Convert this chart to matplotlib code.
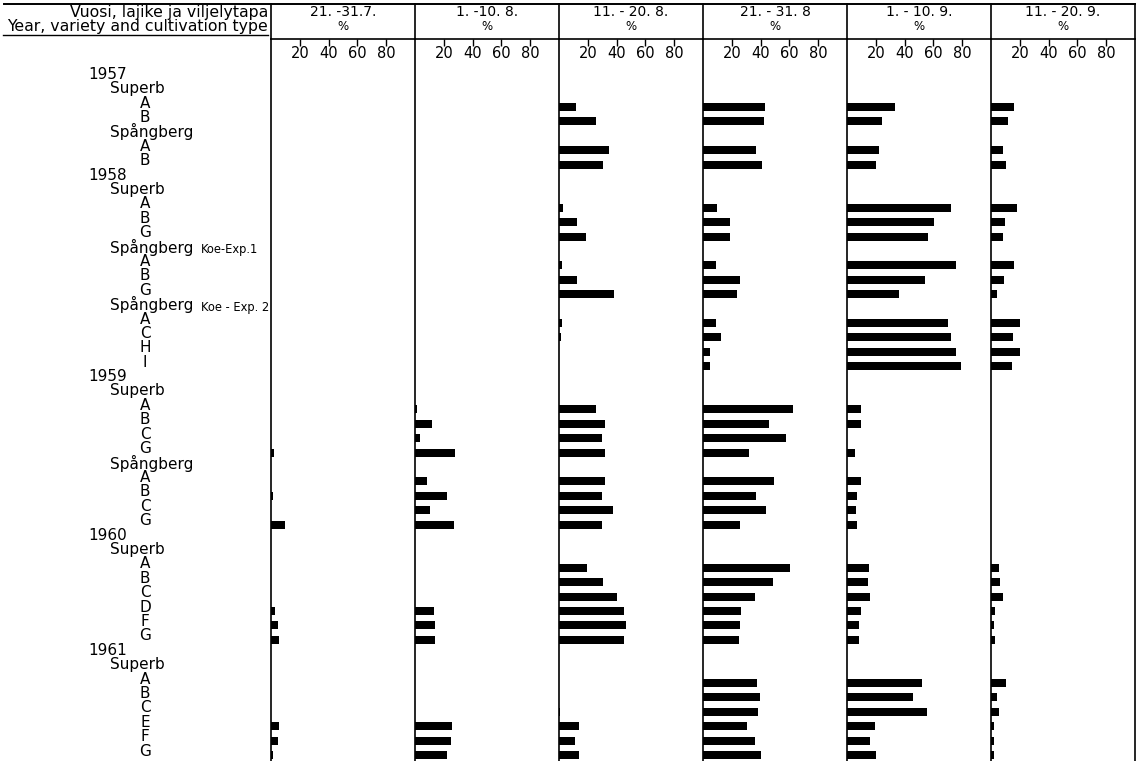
import matplotlib
matplotlib.use("Agg")
import matplotlib.pyplot as plt

W, H, DPI = 1142, 761, 100

periods = ["21. -31.7.", "1. -10. 8.", "11. - 20. 8.", "21. - 31. 8", "1. - 10. 9.", "11. - 20. 9."]
ticks = [20, 40, 60, 80]

# row labels, indent level: 0 = year, 1 = variety, 2 = cultivation type (bar row)
row_text = [
    "1957", "Superb", "A", "B", "Spångberg", "A", "B",
    "1958", "Superb", "A", "B", "G", "Spångberg", "A", "B", "G", "Spångberg", "A", "C", "H", "I",
    "1959", "Superb", "A", "B", "C", "G", "Spångberg", "A", "B", "C", "G",
    "1960", "Superb", "A", "B", "C", "D", "F", "G",
    "1961", "Superb", "A", "B", "C", "E", "F", "G",
]
row_level = [
    0, 1, 2, 2, 1, 2, 2,
    0, 1, 2, 2, 2, 1, 2, 2, 2, 1, 2, 2, 2, 2,
    0, 1, 2, 2, 2, 2, 1, 2, 2, 2, 2,
    0, 1, 2, 2, 2, 2, 2, 2,
    0, 1, 2, 2, 2, 2, 2, 2,
]
row_sub = {12: "Koe-Exp.1", 16: "Koe - Exp. 2"}

# percentages per period, one value per cultivation-type row (top to bottom)
p_21_31_7 = [0, 0, 0, 0,
             0, 0, 0, 0, 0, 0, 0, 0, 0, 0,
             0, 0, 0, 2, 0, 1.5, 0, 9.5,
             0, 0, 0, 2.5, 4.7, 5.7,
             0, 0, 0, 5.5, 4.7, 1.5]
p_1_10_8 = [0, 0, 0, 0,
            0, 0, 0, 0, 0, 0, 0, 0, 0, 0,
            1.7, 11.7, 3.8, 28, 8.2, 22.2, 10.4, 27.3,
            0, 0, 0, 13, 14.2, 13.9,
            0, 0, 0, 26, 24.8, 22.2]
p_11_20_8 = [12, 26, 35, 30.5,
             2.5, 12.4, 18.8, 2, 12.4, 38, 2, 1.5, 0, 0,
             26, 32, 30, 32, 32, 29.6, 37.8, 29.6,
             19.3, 30.8, 40.6, 45, 46.8, 45,
             0, 0, 1, 13.6, 11, 13.6]
p_21_31_8 = [43, 42.4, 36.5, 41.2,
             9.5, 18.8, 19, 9.2, 25.5, 23.4, 9, 12.8, 4.6, 5.1,
             62.2, 45.8, 57.6, 32, 49.3, 36.8, 43.8, 26,
             60.4, 48.3, 36, 26.4, 25.7, 24.7,
             37.8, 39.6, 38, 30.3, 36, 40.1]
p_1_10_9 = [33, 24, 22, 20.3,
            72, 60.7, 56.3, 75.6, 54.5, 35.8, 70, 72.5, 76, 79,
            9.7, 9.7, 0, 5.9, 9.5, 7, 6.5, 6.8,
            15.3, 14.4, 16.2, 10, 8.3, 8.3,
            52, 46, 55.3, 19.4, 15.7, 20]
p_11_20_9 = [16, 12, 8.5, 10.5,
             18, 10, 8.5, 16.2, 9.2, 3.9, 20, 15, 20, 14.6,
             0, 0, 0, 0, 0, 0, 0, 0,
             5.9, 6.5, 8.3, 3, 2, 2.6,
             10.3, 4.1, 5.9, 2, 1.8, 1.8]
series = [p_21_31_7, p_1_10_8, p_11_20_8, p_21_31_8, p_1_10_9, p_11_20_9]

# layout in pixels (y measured from the top)
TOP_Y = 4
HEAD_Y = 38.5
PANEL_X0 = 271
PANEL_W = 144
ROW0 = 78.2
ROW_H = 14.4
LINE_W = 1.2

bar_rows = [i for i, lv in enumerate(row_level) if lv == 2]

fig = plt.figure(figsize=(W / DPI, H / DPI), dpi=DPI)

# frame axes in pixel coordinates for the table header and row labels
frame = fig.add_axes([0, 0, 1, 1])
frame.set_xlim(0, W)
frame.set_ylim(H, 0)
frame.axis("off")

right_x = PANEL_X0 + PANEL_W * len(periods)
frame.plot([4, right_x], [TOP_Y, TOP_Y], color="black", lw=1.4)
frame.text(268, 12, "Vuosi, lajike ja viljelytapa", ha="right", va="center", fontsize=11.3)
frame.text(268, 27, "Year, variety and cultivation type", ha="right", va="center", fontsize=11.3)
frame.plot([3, 268], [35, 35], color="black", lw=1.0)

for k, label in enumerate(periods):
    x0 = PANEL_X0 + PANEL_W * k
    frame.plot([x0, x0], [TOP_Y, HEAD_Y], color="black", lw=LINE_W)
    frame.text(x0 + PANEL_W / 2, 12.5, label, ha="center", va="center", fontsize=10)
    frame.text(x0 + PANEL_W / 2, 26, "%", ha="center", va="center", fontsize=8.5)
frame.plot([right_x, right_x], [TOP_Y, HEAD_Y], color="black", lw=LINE_W)

label_x = {0: 88, 1: 110, 2: 145}
for i, (txt, lv) in enumerate(zip(row_text, row_level)):
    y = ROW0 + ROW_H * i - 4
    frame.text(label_x[lv], y, txt, ha="center" if lv == 2 else "left",
               va="center", fontsize=11)
    if i in row_sub:
        frame.text(201, y + 3, row_sub[i], ha="left", va="center", fontsize=8.3)

# one bar panel per period
top_idx = (HEAD_Y - ROW0) / ROW_H
bot_idx = (H - ROW0) / ROW_H
for k, vals in enumerate(series):
    x0 = PANEL_X0 + PANEL_W * k
    ax = fig.add_axes([x0 / W, 0, PANEL_W / W, (H - HEAD_Y) / H])
    ax.patch.set_alpha(0)
    ax.barh(bar_rows, vals, height=0.56, color="black")
    ax.set_xlim(0, 100)
    ax.set_ylim(bot_idx, top_idx)
    ax.xaxis.tick_top()
    ax.set_xticks(ticks)
    ax.set_xticklabels([str(t) for t in ticks])
    ax.tick_params(axis="x", direction="in", length=5, width=1, pad=-16, labelsize=10.5)
    ax.set_yticks([])
    ax.spines["bottom"].set_visible(False)
    ax.spines["right"].set_visible(k == len(series) - 1)
    for s in ("top", "left", "right"):
        ax.spines[s].set_linewidth(LINE_W)

fig.savefig("out.png", dpi=DPI)
